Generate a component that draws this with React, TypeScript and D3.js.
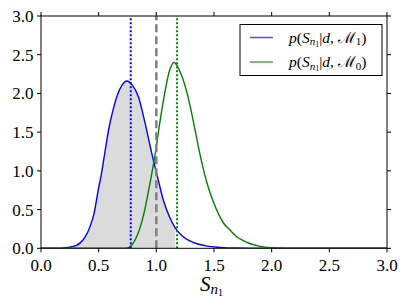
import React, { useEffect, useRef } from 'react'
import * as d3 from 'd3'

// blue curve, p(S|d,M1)
const blueX = [0, 0.15, 0.2, 0.25, 0.3, 0.34, 0.38, 0.425, 0.46, 0.497, 0.526, 0.555, 0.59, 0.627, 0.66, 0.7, 0.743, 0.79, 0.844, 0.902, 0.96, 1.017, 1.061, 1.11, 1.165, 1.22, 1.29, 1.36, 1.44, 1.55, 1.7, 1.9, 3.0]
const blueY = [0, 0.002, 0.006, 0.015, 0.035, 0.07, 0.14, 0.28, 0.45, 0.76, 0.98, 1.25, 1.56, 1.8, 1.97, 2.1, 2.16, 2.11, 1.96, 1.62, 1.23, 0.88, 0.62, 0.42, 0.26, 0.165, 0.095, 0.055, 0.028, 0.012, 0.003, 0, 0]

// green curve, p(S|d,M0)
const greenX = [0, 0.7, 0.75, 0.786, 0.82, 0.86, 0.9, 0.945, 0.99, 1.032, 1.07, 1.11, 1.153, 1.206, 1.264, 1.321, 1.379, 1.436, 1.494, 1.581, 1.639, 1.697, 1.755, 1.81, 1.9, 2.0, 2.15, 2.3, 3.0]
const greenY = [0, 0, 0.005, 0.04, 0.12, 0.27, 0.5, 0.84, 1.22, 1.64, 1.98, 2.27, 2.4, 2.28, 2.02, 1.64, 1.21, 0.86, 0.6, 0.33, 0.235, 0.15, 0.098, 0.062, 0.025, 0.008, 0.002, 0, 0]

const shadeEnd = 1.165
const blueMark = 0.778
const greenMark = 1.18
const refMark = 1.0

const xTicks = [0, 0.5, 1.0, 1.5, 2.0, 2.5, 3.0]
const yTicks = [0, 0.5, 1.0, 1.5, 2.0, 2.5, 3.0]

const W = 407
const H = 308
const serif = "'Liberation Serif', 'DejaVu Serif', serif"

export default function App() {
  const ref = useRef<SVGSVGElement>(null)

  useEffect(() => {
    const svg = d3.select(ref.current)
    svg.selectAll('*').remove()

    const left = 41, right = 387, top = 16, bottom = 248.3
    const x = d3.scaleLinear().domain([0, 3]).range([left, right])
    const y = d3.scaleLinear().domain([0, 3]).range([bottom, top])

    const blue = blueX.map((v, i) => [v, blueY[i]] as [number, number])
    const green = greenX.map((v, i) => [v, greenY[i]] as [number, number])

    const line = d3.line<[number, number]>()
      .x(d => x(d[0])).y(d => y(d[1]))
      .curve(d3.curveMonotoneX)

    const area = d3.area<[number, number]>()
      .x(d => x(d[0])).y0(y(0)).y1(d => y(d[1]))
      .curve(d3.curveMonotoneX)

    const clip = svg.append('defs').append('clipPath').attr('id', 'plotclip')
    clip.append('rect').attr('x', left).attr('y', top).attr('width', right - left).attr('height', bottom - top)

    const g = svg.append('g').attr('clip-path', 'url(#plotclip)')

    g.append('path')
      .datum(blue.filter(d => d[0] <= shadeEnd))
      .attr('d', area)
      .attr('fill', '#dbdbdb')

    g.append('path').datum(blue).attr('d', line)
      .attr('fill', 'none').attr('stroke', '#0000ff').attr('stroke-width', 1.4)
    g.append('path').datum(green).attr('d', line)
      .attr('fill', 'none').attr('stroke', '#008000').attr('stroke-width', 1.4)

    const vline = (v: number, color: string, dash: string, w: number) =>
      g.append('line')
        .attr('x1', x(v)).attr('x2', x(v))
        .attr('y1', y(0)).attr('y2', y(3))
        .attr('stroke', color).attr('stroke-width', w)
        .attr('stroke-dasharray', dash)

    vline(blueMark, '#0000ff', '2,2', 2)
    vline(refMark, '#808080', '8,4', 2.5)
    vline(greenMark, '#008000', '2,2', 2)

    // frame
    svg.append('rect')
      .attr('x', left).attr('y', top)
      .attr('width', right - left).attr('height', bottom - top)
      .attr('fill', 'none').attr('stroke', '#000').attr('stroke-width', 1)

    const tl = 4
    xTicks.forEach(t => {
      svg.append('line').attr('x1', x(t)).attr('x2', x(t)).attr('y1', bottom).attr('y2', bottom + tl).attr('stroke', '#000')
      svg.append('line').attr('x1', x(t)).attr('x2', x(t)).attr('y1', top).attr('y2', top - tl).attr('stroke', '#000')
      svg.append('text')
        .attr('x', x(t)).attr('y', 271)
        .attr('text-anchor', 'middle')
        .style('font-family', serif).style('font-size', '17px')
        .text(d3.format('.1f')(t))
    })
    yTicks.forEach(t => {
      svg.append('line').attr('x1', left).attr('x2', left - tl).attr('y1', y(t)).attr('y2', y(t)).attr('stroke', '#000')
      svg.append('line').attr('x1', right).attr('x2', right + tl).attr('y1', y(t)).attr('y2', y(t)).attr('stroke', '#000')
      svg.append('text')
        .attr('x', 33.5).attr('y', y(t)).attr('dy', '0.35em')
        .attr('text-anchor', 'end')
        .style('font-family', serif).style('font-size', '17px')
        .text(d3.format('.1f')(t))
    })

    // x label
    const xl = svg.append('text')
      .attr('x', 200).attr('y', 291)
      .style('font-family', serif).style('font-size', '21px')
    xl.append('tspan').style('font-style', 'italic').text('S')
    xl.append('tspan').style('font-style', 'italic').style('font-size', '15px').attr('dy', 3).text('n')
    xl.append('tspan').style('font-size', '10px').attr('dy', 2).text('1')

    // legend
    const lg = svg.append('g')
    lg.append('rect')
      .attr('x', 240).attr('y', 24.5).attr('width', 142).attr('height', 51)
      .attr('fill', '#fff').attr('stroke', '#000').attr('stroke-width', 1)

    const entries = [
      { color: '#0000ff', sub: '1', yy: 37.5 },
      { color: '#008000', sub: '0', yy: 62 },
    ]
    entries.forEach(e => {
      lg.append('line')
        .attr('x1', 250).attr('x2', 273).attr('y1', e.yy).attr('y2', e.yy)
        .attr('stroke', e.color).attr('stroke-width', 1.5).attr('opacity', 0.7)
      const t = lg.append('text')
        .attr('x', 289).attr('y', e.yy + 5)
        .style('font-family', serif).style('font-size', '15.5px')
      t.append('tspan').style('font-style', 'italic').text('p')
      t.append('tspan').text('(')
      t.append('tspan').style('font-style', 'italic').text('S')
      t.append('tspan').style('font-style', 'italic').style('font-size', '11px').attr('dy', 2.5).text('n')
      t.append('tspan').style('font-size', '8px').attr('dy', 1.5).text('1')
      t.append('tspan').attr('dy', -4).text('|')
      t.append('tspan').style('font-style', 'italic').text('d')
      t.append('tspan').text(', ')
      t.append('tspan').text('ℳ')
      t.append('tspan').style('font-size', '11px').attr('dy', 2.5).text(e.sub)
      t.append('tspan').attr('dy', -2.5).text(')')
    })
  }, [])

  return (
    <svg
      ref={ref}
      width={W}
      height={H}
      style={{ position: 'absolute', left: 0, top: 0, background: '#fff' }}
    />
  )
}
